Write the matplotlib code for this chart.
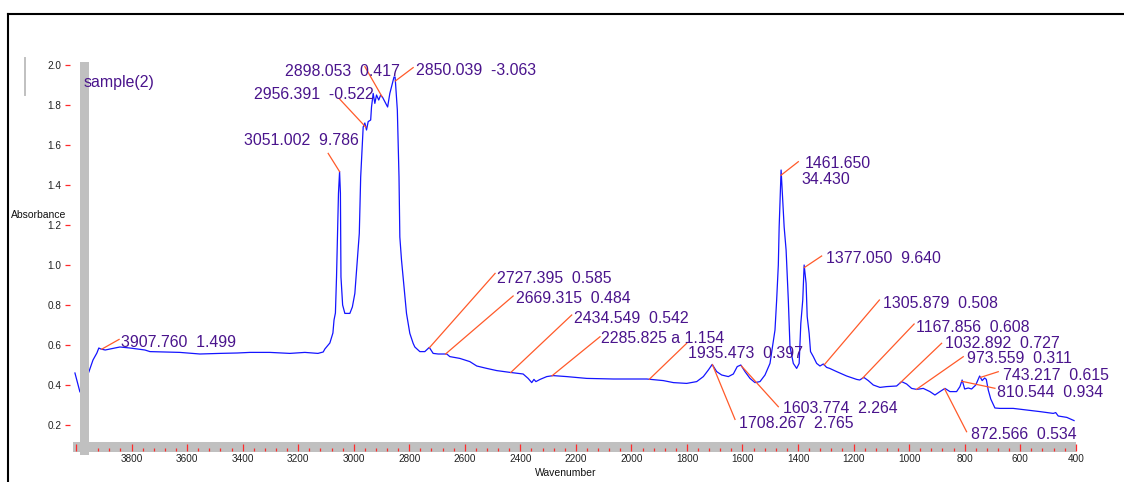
import numpy as np
import matplotlib
matplotlib.use("Agg")
import matplotlib.pyplot as plt
from matplotlib.lines import Line2D
from matplotlib.ticker import MultipleLocator

plt.rcParams['font.family'] = ['Liberation Sans', 'DejaVu Sans']

# ---------------- data ----------------
wavenumber = [4004, 3986, 3954, 3939, 3925, 3918, 3911, 3895, 3878, 3860, 3842, 3806,
              3752, 3734, 3680, 3626, 3554, 3482, 3420, 3374, 3302, 3230, 3176, 3129,
              3110, 3104, 3086, 3075, 3071, 3066, 3062, 3055, 3051, 3048, 3046, 3040,
              3032, 3014, 3005, 2996, 2987, 2980, 2975, 2969, 2966, 2960, 2954, 2948,
              2939, 2936, 2930, 2924, 2918, 2910, 2903, 2896, 2888, 2878, 2870, 2864,
              2855, 2851, 2843, 2837, 2834, 2828, 2819, 2810, 2798, 2786, 2780, 2762,
              2744, 2728, 2714, 2696, 2665, 2654, 2618, 2582, 2557, 2521, 2485, 2437,
              2390, 2372, 2359, 2351, 2344, 2329, 2305, 2282, 2233, 2161, 2065, 1945,
              1885, 1849, 1801, 1765, 1741, 1723, 1709, 1693, 1675, 1651, 1633, 1619,
              1606, 1591, 1573, 1555, 1537, 1519, 1501, 1483, 1477, 1471, 1468, 1461,
              1450, 1443, 1435, 1429, 1417, 1405, 1396, 1390, 1383, 1378, 1371, 1367,
              1360, 1355, 1345, 1333, 1321, 1309, 1297, 1286, 1261, 1225, 1189, 1178,
              1163, 1147, 1129, 1105, 1081, 1045, 1027, 1009, 991, 973, 949, 925,
              907, 889, 871, 853, 829, 817, 809, 800, 787, 775, 760, 746,
              737, 728, 722, 715, 706, 691, 673, 625, 577, 529, 481, 472,
              463, 432, 406]
absorbance = [0.46, 0.365, 0.465, 0.525, 0.56, 0.585, 0.58, 0.575, 0.58, 0.585, 0.59, 0.585,
              0.575, 0.567, 0.565, 0.563, 0.555, 0.558, 0.560, 0.563, 0.563, 0.558, 0.563, 0.558,
              0.565, 0.58, 0.61, 0.66, 0.725, 0.76, 0.94, 1.358, 1.467, 1.36, 0.94, 0.80,
              0.758, 0.758, 0.79, 0.858, 1.025, 1.158, 1.44, 1.608, 1.69, 1.71, 1.675, 1.717,
              1.725, 1.79, 1.858, 1.808, 1.85, 1.825, 1.85, 1.838, 1.817, 1.79, 1.858, 1.89,
              1.94, 1.94, 1.775, 1.44, 1.14, 1.025, 0.89, 0.758, 0.658, 0.608, 0.59, 0.567,
              0.567, 0.588, 0.558, 0.555, 0.555, 0.542, 0.533, 0.517, 0.495, 0.483, 0.472, 0.463,
              0.455, 0.433, 0.412, 0.428, 0.417, 0.428, 0.442, 0.447, 0.442, 0.433, 0.43, 0.43,
              0.422, 0.412, 0.408, 0.417, 0.442, 0.475, 0.503, 0.467, 0.45, 0.442, 0.455, 0.492,
              0.50, 0.467, 0.433, 0.412, 0.417, 0.45, 0.508, 0.675, 0.825, 1.0, 1.19, 1.475,
              1.19, 1.075, 0.825, 0.592, 0.508, 0.483, 0.508, 0.708, 0.825, 1.0, 0.908, 0.742,
              0.658, 0.567, 0.542, 0.508, 0.495, 0.505, 0.488, 0.483, 0.467, 0.445, 0.428, 0.425,
              0.438, 0.422, 0.40, 0.388, 0.392, 0.395, 0.417, 0.405, 0.383, 0.378, 0.383, 0.367,
              0.35, 0.367, 0.383, 0.367, 0.367, 0.392, 0.425, 0.38, 0.385, 0.38, 0.40, 0.445,
              0.422, 0.435, 0.428, 0.375, 0.33, 0.285, 0.283, 0.283, 0.275, 0.267, 0.258, 0.262,
              0.245, 0.238, 0.222]

peak_wavenumber = [3907.760, 3051.002, 2956.391, 2898.053, 2850.039, 2727.395, 2669.315,
                   2434.549, 2285.825, 1935.473, 1708.267, 1603.774, 1461.650, 1377.050,
                   1305.879, 1167.856, 1032.892, 973.559, 743.217, 810.544, 872.566]
peak_labels = ["3907.760  1.499", "3051.002  9.786", "2956.391  -0.522", "2898.053  0.417",
               "2850.039  -3.063", "2727.395  0.585", "2669.315  0.484", "2434.549  0.542",
               "2285.825 a 1.154", "1935.473  0.397", "1708.267  2.765", "1603.774  2.264",
               "1461.650\n34.430", "1377.050  9.640", "1305.879  0.508", "1167.856  0.608",
               "1032.892  0.727", "973.559  0.311", "743.217  0.615", "810.544  0.934",
               "872.566  0.534"]

x_tick_values = [4000, 3800, 3600, 3400, 3200, 3000, 2800, 2600, 2400, 2200, 2000,
                 1800, 1600, 1400, 1200, 1000, 800, 600, 400]
x_tick_labels = ["", "3800", "3600", "3400", "3200", "3000", "2800", "2600", "2400", "2200",
                 "2000", "1800", "1600", "1400", "1200", "1000", "800", "600", "400"]
y_tick_values = [0.2, 0.4, 0.6, 0.8, 1.0, 1.2, 1.4, 1.6, 1.8, 2.0]
y_tick_labels = ["0.2", "0.4", "0.6", "0.8", "1.0", "1.2", "1.4", "1.6", "1.8", "2.0"]
series_name = "sample(2)"
x_title = "Wavenumber"
y_title = "Absorbance"

# ---------------- layout (label positions, data coords) ----------------
text_pos = [[(3838, 0.592)], [(3395, 1.60)], [(3358, 1.83)], [(3248, 1.945)], [(2777, 1.95)],
            [(2483, 0.9085)], [(2417, 0.8085)], [(2207, 0.7115)], [(2108, 0.6115)],
            [(1795, 0.5335)], [(1612, 0.1835)], [(1455, 0.2585)],
            [(1375, 1.4865), (1389.5, 1.405)], [(1300, 1.0085)], [(1093, 0.7835)],
            [(975, 0.6665)], [(871, 0.5835)], [(793, 0.5085)], [(663, 0.425)],
            [(682, 0.3415)], [(778, 0.1285)]]
leader_end = [(3845, 0.628), (3092, 1.558), (3053, 1.833), (2960, 1.992), (2786, 1.987),
              (2491, 0.958), (2426, 0.845), (2215, 0.75), (2113, 0.6415), (1801, 0.6085),
              (1627, 0.228), (1471, 0.2915), (1399, 1.5165), (1315, 1.045), (1107, 0.825),
              (982, 0.705), (883, 0.6085), (805, 0.5415), (679, 0.4665), (691, 0.3835),
              (793, 0.1665)]

W, H = 1124, 482
TXT = '#4a148c'
LEAD = '#ff5a2a'
RED = '#ff2a2a'
GRAY = '#c0c0c0'

fig = plt.figure(figsize=(W / 100, H / 100), dpi=100)
fig.patch.set_facecolor('white')
ax = fig.add_axes([73 / W, 30 / H, 1003 / W, 390 / H])
ax.set_xlim(4011, 399)
ax.set_ylim(0.065, 2.015)
ax.patch.set_alpha(0)
for s in ax.spines.values():
    s.set_visible(False)

ax.plot(wavenumber, absorbance, color='#1414ff', lw=0.9, zorder=3)

# gray axis bars
ax.axhspan(0.065, 0.115, color=GRAY, lw=0, zorder=1)
ax.axvspan(3954, 3986, ymin=-3 / 390, ymax=1.0, color=GRAY, lw=0, zorder=4, clip_on=False)

# ticks
ax.set_xticks(x_tick_values, x_tick_labels)
ax.xaxis.set_minor_locator(MultipleLocator(40))
ax.spines['bottom'].set_position(('data', 0.07))
ax.tick_params(axis='x', which='major', direction='in', length=5, width=0.9, color=RED,
               pad=2, labelsize=7.2, labelcolor='#222222')
ax.tick_params(axis='x', which='minor', direction='in', length=2.3, width=0.9, color=RED)
for t in ax.xaxis.get_major_ticks() + ax.xaxis.get_minor_ticks():
    t.set_zorder(5)
ax.set_yticks(y_tick_values, y_tick_labels)
ax.spines['left'].set_position(('outward', 2.5))
ax.tick_params(axis='y', which='major', direction='out', length=3.8, width=0.9, color=RED,
               pad=2, labelsize=7.2, labelcolor='#222222')

# peak annotations
xs = np.array(wavenumber[::-1], dtype=float)
ys = np.array(absorbance[::-1], dtype=float)
for pw, lab, tps, le in zip(peak_wavenumber, peak_labels, text_pos, leader_end):
    pv = np.interp(pw, xs, ys)
    ax.plot([pw, le[0]], [pv, le[1]], color=LEAD, lw=0.9, zorder=5, clip_on=False)
    for line, (tx, ty) in zip(lab.split('\n'), tps):
        ax.text(tx, ty, line, color=TXT, fontsize=11.4, ha='left', va='baseline', zorder=6)

ax.text(3972, 1.888, series_name, color=TXT, fontsize=11.4, ha='left', va='baseline', zorder=6)

fig.text(11 / W, 1 - 215.5 / H, y_title, fontsize=7.5, color='#111111', ha='left', va='center')
fig.text(566 / W, 1 - 472.7 / H, x_title, fontsize=7.5, color='#111111', ha='center', va='center')

# frame decorations
fig.add_artist(Line2D([7.5 / W, 1.0], [1 - 13.5 / H, 1 - 13.5 / H], transform=fig.transFigure,
                      color='black', lw=1.5))
fig.add_artist(Line2D([7.5 / W, 7.5 / W], [0, 1 - 13.5 / H], transform=fig.transFigure,
                      color='black', lw=1.5))
fig.add_artist(Line2D([25 / W, 25 / W], [1 - 95 / H, 1 - 58 / H], transform=fig.transFigure,
                      color=GRAY, lw=1.4))

fig.savefig('out.png', dpi=100)
